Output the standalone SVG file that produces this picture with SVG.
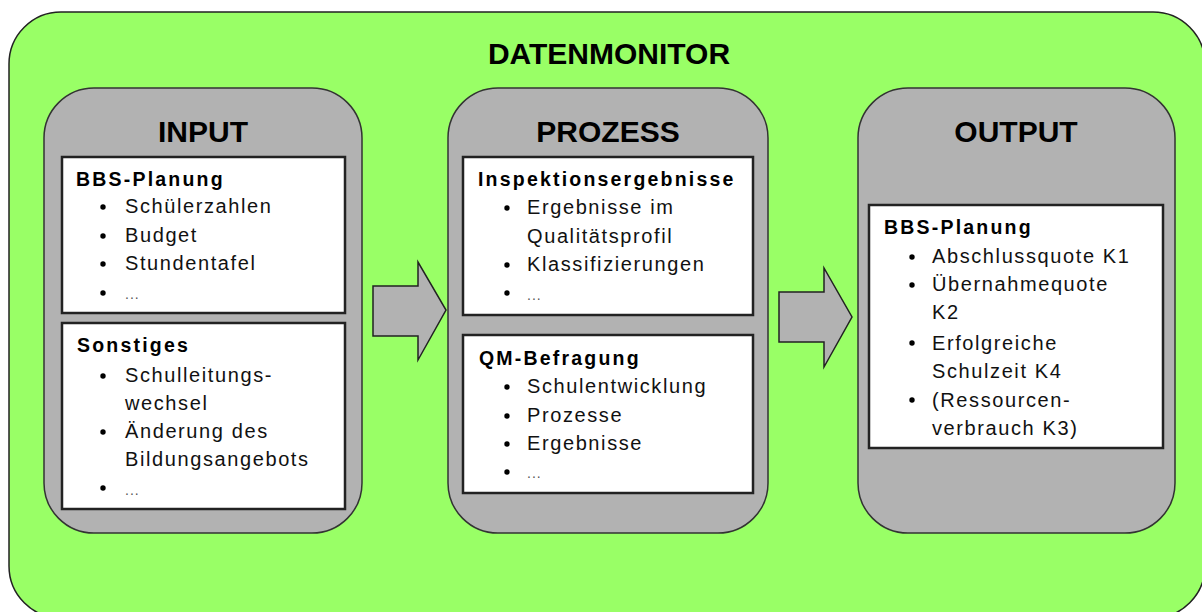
<svg xmlns="http://www.w3.org/2000/svg" width="1202" height="612" viewBox="0 0 1202 612">
  <style>
    .frame { fill: #99ff66; stroke: #222; stroke-width: 1.5; }
    .panel { fill: #b2b2b2; stroke: #333; stroke-width: 1.5; }
    .box { fill: #fff; stroke: #222; stroke-width: 2.5; }
    .arrow { fill: #b2b2b2; stroke: #222; stroke-width: 1.5; stroke-linejoin: miter; }
    .title { font-family: "Liberation Sans", Arial, sans-serif; font-weight: bold; font-size: 30px; fill: #000; text-anchor: middle; }
    .head { font-family: "Liberation Sans", Arial, sans-serif; font-weight: bold; font-size: 19.5px; letter-spacing: 2.2px; fill: #000; }
    .item { font-family: "Liberation Sans", Arial, sans-serif; font-size: 20px; letter-spacing: 1.6px; fill: #111; }
    .dots { font-family: "Liberation Sans", Arial, sans-serif; font-size: 14px; letter-spacing: 1px; fill: #555; }
    .bullet { fill: #000; }
  </style>

  <!-- outer frame -->
  <g id="datenmonitor">
    <rect class="frame" x="9" y="12" width="1196" height="606" rx="52" ry="52"/>
    <text class="title" x="609" y="64">DATENMONITOR</text>
  </g>

  <!-- INPUT column -->
  <g id="input">
    <rect class="panel" x="44" y="88" width="318" height="445" rx="50" ry="50"/>
    <text class="title" x="203" y="142">INPUT</text>
  </g>
  <g id="input-bbs">
    <rect class="box" x="62" y="157" width="283" height="156"/>
    <text class="head" x="76" y="186">BBS-Planung</text>
    <circle class="bullet" cx="103" cy="207" r="2.7"/>
    <text class="item" x="125" y="213">Schülerzahlen</text>
    <circle class="bullet" cx="103" cy="236" r="2.7"/>
    <text class="item" x="125" y="242">Budget</text>
    <circle class="bullet" cx="103" cy="264" r="2.7"/>
    <text class="item" x="125" y="270">Stundentafel</text>
    <circle class="bullet" cx="103" cy="293" r="2.7"/>
    <text class="dots" x="125" y="299">...</text>
  </g>
  <g id="input-sonstiges">
    <rect class="box" x="62" y="323" width="283" height="186"/>
    <text class="head" x="77" y="352">Sonstiges</text>
    <circle class="bullet" cx="103" cy="376" r="2.7"/>
    <text class="item" x="125" y="382">Schulleitungs-</text>
    <text class="item" x="125" y="410">wechsel</text>
    <circle class="bullet" cx="103" cy="432" r="2.7"/>
    <text class="item" x="125" y="438">Änderung des</text>
    <text class="item" x="125" y="466">Bildungsangebots</text>
    <circle class="bullet" cx="103" cy="488" r="2.7"/>
    <text class="dots" x="125" y="495">...</text>
  </g>

  <!-- PROZESS column -->
  <g id="prozess">
    <rect class="panel" x="448" y="88" width="320" height="445" rx="50" ry="50"/>
    <text class="title" x="608" y="142">PROZESS</text>
  </g>
  <g id="prozess-inspektion">
    <rect class="box" x="463" y="157" width="290" height="158"/>
    <text class="head" x="478" y="186">Inspektionsergebnisse</text>
    <circle class="bullet" cx="507" cy="208" r="2.7"/>
    <text class="item" x="527" y="214">Ergebnisse im</text>
    <text class="item" x="527" y="243">Qualitätsprofil</text>
    <circle class="bullet" cx="507" cy="265" r="2.7"/>
    <text class="item" x="527" y="271">Klassifizierungen</text>
    <circle class="bullet" cx="507" cy="293" r="2.7"/>
    <text class="dots" x="527" y="300">...</text>
  </g>
  <g id="prozess-qm">
    <rect class="box" x="463" y="335" width="290" height="158"/>
    <text class="head" x="479" y="365">QM-Befragung</text>
    <circle class="bullet" cx="507" cy="387" r="2.7"/>
    <text class="item" x="527" y="393">Schulentwicklung</text>
    <circle class="bullet" cx="507" cy="416" r="2.7"/>
    <text class="item" x="527" y="422">Prozesse</text>
    <circle class="bullet" cx="507" cy="444" r="2.7"/>
    <text class="item" x="527" y="450">Ergebnisse</text>
    <circle class="bullet" cx="507" cy="472" r="2.7"/>
    <text class="dots" x="527" y="478">...</text>
  </g>

  <!-- OUTPUT column -->
  <g id="output">
    <rect class="panel" x="858" y="88" width="317" height="445" rx="50" ry="50"/>
    <text class="title" x="1016" y="142">OUTPUT</text>
  </g>
  <g id="output-bbs">
    <rect class="box" x="869" y="205" width="294" height="243"/>
    <text class="head" x="884" y="234">BBS-Planung</text>
    <circle class="bullet" cx="912" cy="257" r="2.7"/>
    <text class="item" x="932" y="263">Abschlussquote K1</text>
    <circle class="bullet" cx="912" cy="285" r="2.7"/>
    <text class="item" x="932" y="291">Übernahmequote</text>
    <text class="item" x="932" y="319">K2</text>
    <circle class="bullet" cx="912" cy="343" r="2.7"/>
    <text class="item" x="932" y="350">Erfolgreiche</text>
    <text class="item" x="932" y="378">Schulzeit K4</text>
    <circle class="bullet" cx="912" cy="400" r="2.7"/>
    <text class="item" x="932" y="407">(Ressourcen-</text>
    <text class="item" x="932" y="435">verbrauch K3)</text>
  </g>

  <!-- block arrows between the columns -->
  <g id="connectors">
    <polygon class="arrow" points="373,286 418,286 418,262 446,310 418,360 418,336 373,336"/>
    <polygon class="arrow" points="779,292 824,292 824,268 852,317 824,367 824,342 779,342"/>
  </g>
</svg>
